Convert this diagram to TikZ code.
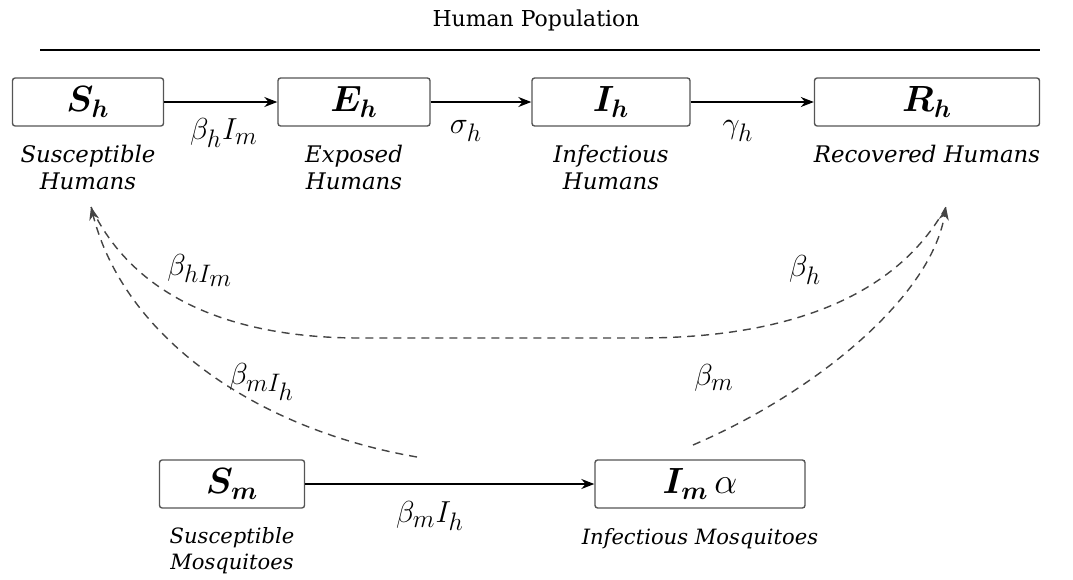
\documentclass[tikz,border=0pt]{standalone}
\usepackage{bm}
\usepackage{fontspec}
\newfontfamily\labelfont{DejaVu Serif}
\usepackage{tikz}
\usetikzlibrary{arrows.meta,positioning}
\definecolor{boxgray}{HTML}{555555}
\definecolor{dashgray}{HTML}{444444}

\tikzset{
  compbox/.style={draw=boxgray,line width=0.8pt,rounded corners=1.5pt,minimum height=0.96cm,
    inner sep=0pt,font=\fontsize{20}{24}\selectfont},
  caption/.style={align=center,inner sep=0pt,font=\labelfont\fontsize{13}{15.4}\selectfont\itshape},
  rate/.style={inner sep=1pt,font=\fontsize{19}{22}\selectfont},
  flow/.style={line width=0.8pt,-{Stealth[length=2.6mm,width=2mm]}},
  contact/.style={dashgray,line width=0.8pt,dash pattern=on 1.6mm off 1.2mm}
}

\begin{document}
\begin{tikzpicture}[x=0.02cm,y=-0.02cm]
  \useasboundingbox (0,0) rectangle (1073,579);
  % titulo y linea
  \node[font=\labelfont\fontsize{12.5}{15}\selectfont] (title) at (536,20) {Human Population};
  \coordinate (lineL) at (40,50);
  \coordinate (lineR) at (1040,50);
  \draw[line width=0.7pt] (lineL) -- (lineR);

  % compartimentos humanos
  \node[compbox,minimum width=3.02cm] (sh) at (88,102) {$\bm{S_h}$};
  \node[compbox,minimum width=3.04cm] (eh) at (354,102) {$\bm{E_h}$};
  \node[compbox,minimum width=3.16cm] (ih) at (611,102) {$\bm{I_h}$};
  \node[compbox,minimum width=4.5cm] (rh) at (927,102) {$\bm{R_h}$};

  \node[caption,below=0.36cm of sh] (shtxt) {Susceptible\\Humans};
  \node[caption,below=0.36cm of eh] (ehtxt) {Exposed\\Humans};
  \node[caption,below=0.36cm of ih] (ihtxt) {Infectious\\Humans};
  \node[caption,below=0.36cm of rh] (rhtxt) {Recovered Humans};

  \draw[flow] (sh) -- (eh);
  \draw[flow] (eh) -- (ih);
  \draw[flow] (ih) -- (rh);
  \node[rate] (r1) at (224,133) {$\beta_h I_m$};
  \node[rate] (r2) at (466,131) {$\sigma_h$};
  \node[rate] (r3) at (738,131) {$\gamma_h$};

  % compartimentos mosquitos
  \node[compbox,minimum width=2.9cm] (sm) at (232,484) {$\bm{S_m}$};
  \node[compbox,minimum width=4.2cm] (im) at (700,484) {$\bm{I_m}\,\alpha$};
  \node[caption,font=\labelfont\fontsize{12}{15}\selectfont\itshape,below=0.36cm of sm] (smtxt) {Susceptible\\Mosquitoes};
  \node[caption,font=\labelfont\fontsize{12}{15}\selectfont\itshape,below=0.38cm of im] (imtxt) {Infectious Mosquitoes};
  \draw[flow] (sm) -- (im);
  \node[rate] (r4) at (430,516) {$\beta_m I_h$};

  % curvas de contacto
  \coordinate (tipS) at (91,207);
  \coordinate (tipR) at (946,207);
  \coordinate (fromSm) at (417,457);
  \coordinate (fromIm) at (693,445);
  \draw[contact] (tipS) .. controls (130,290) and (220,338) .. (360,338)
    -- (640,338) .. controls (800,338) and (900,290) .. (tipR);
  \draw[contact,-{Stealth[length=2.6mm,width=2mm]}] (fromSm) .. controls (260,430) and (125,340) .. (tipS);
  \draw[contact,-{Stealth[length=2.6mm,width=2mm]}] (fromIm) .. controls (810,395) and (930,300) .. (tipR);
  \node[rate] (c1) at (200,270) {$\beta_{hI_{\scriptstyle m}}$};
  \node[rate] (c2) at (262,382) {$\beta_{mI_{\scriptstyle h}}$};
  \node[rate] (c3) at (805,270) {$\beta_h$};
  \node[rate] (c4) at (714,378) {$\beta_m$};
\end{tikzpicture}
\end{document}
